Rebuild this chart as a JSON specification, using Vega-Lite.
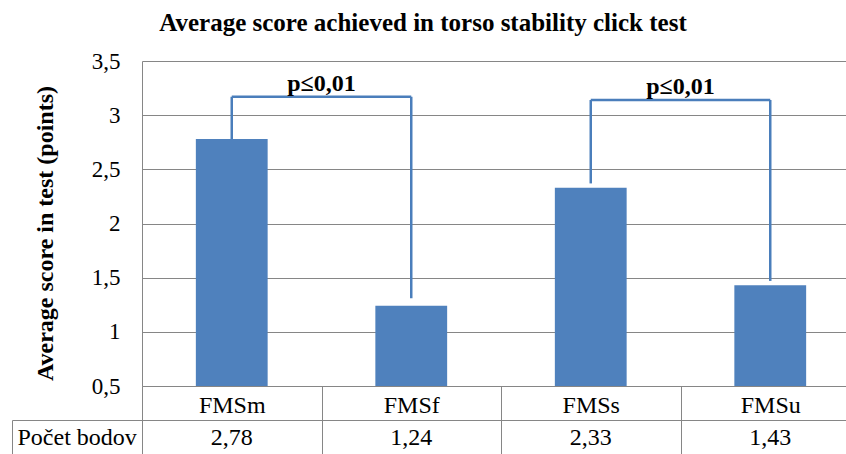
{
  "$schema": "https://vega.github.io/schema/vega-lite/v6.json",
  "width": 704,
  "height": 325,
  "autosize": {"type": "none"},
  "padding": {"left": 142, "top": 61, "right": 0, "bottom": 68},
  "background": "white",
  "title": {
    "text": "Average score achieved in torso stability click test",
    "font": "Liberation Serif, Times New Roman, serif",
    "fontSize": 25,
    "fontWeight": "bold",
    "color": "black",
    "anchor": "middle",
    "frame": "group",
    "dx": -71,
    "offset": 13
  },
  "config": {
    "locale": {"number": {"decimal": ",", "thousands": " ", "grouping": [3], "currency": ["", " €"]}},
    "view": {"stroke": null},
    "font": "Liberation Serif, Times New Roman, serif"
  },
  "datasets": {
    "scores": [
      {"cat": "FMSm", "score": 2.78},
      {"cat": "FMSf", "score": 1.24},
      {"cat": "FMSs", "score": 2.33},
      {"cat": "FMSu", "score": 1.43}
    ],
    "brackets": [
      {"from": "FMSm", "to": "FMSf", "y_from": 2.78, "y_to": 1.31, "y_top": 3.17, "label": "p≤0,01"},
      {"from": "FMSs", "to": "FMSu", "y_from": 2.37, "y_to": 1.47, "y_top": 3.14, "label": "p≤0,01"}
    ]
  },
  "layer": [
    {
      "data": {"name": "scores"},
      "mark": {"type": "bar", "color": "#4F81BD", "width": {"band": 0.4}},
      "encoding": {
        "x": {
          "field": "cat",
          "type": "nominal",
          "sort": null,
          "title": null,
          "scale": {"domain": ["FMSm", "FMSf", "FMSs", "FMSu"], "range": [0, 718], "paddingInner": 0, "paddingOuter": 0},
          "axis": {
            "orient": "bottom",
            "labelAngle": 0,
            "labelFont": "Liberation Serif, Times New Roman, serif",
            "labelFontSize": 24,
            "labelColor": "black",
            "labelBaseline": "alphabetic",
            "labelPadding": -42,
            "tickBand": "extent",
            "tickSize": 68,
            "tickColor": "#868686",
            "domain": true,
            "domainColor": "#868686",
            "grid": false
          }
        },
        "y": {
          "field": "score",
          "type": "quantitative",
          "scale": {"domain": [0.5, 3.5], "nice": false, "zero": false},
          "axis": {
            "title": "Average score in test (points)",
            "values": [0.5, 1, 1.5, 2, 2.5, 3, 3.5],
            "format": "~g",
            "ticks": false,
            "labelPadding": 22,
            "labelFont": "Liberation Serif, Times New Roman, serif",
            "labelFontSize": 23,
            "labelColor": "black",
            "grid": true,
            "gridColor": "#868686",
            "domainColor": "#868686",
            "titleFont": "Liberation Serif, Times New Roman, serif",
            "titleFontSize": 24,
            "titleFontWeight": "bold",
            "titleColor": "black",
            "titlePadding": 34,
            "titleY": 172
          }
        },
        "y2": {"datum": 0.5}
      }
    },
    {
      "data": {"name": "brackets"},
      "mark": {"type": "rule", "color": "#4A7EBB", "strokeWidth": 2.5},
      "encoding": {
        "x": {"field": "from", "type": "nominal", "bandPosition": 0.5, "title": null},
        "y": {"field": "y_from", "type": "quantitative", "scale": {"domain": [0.5, 3.5], "nice": false, "zero": false}, "axis": null},
        "y2": {"field": "y_top"}
      }
    },
    {
      "data": {"name": "brackets"},
      "mark": {"type": "rule", "color": "#4A7EBB", "strokeWidth": 2.5},
      "encoding": {
        "x": {"field": "to", "type": "nominal", "bandPosition": 0.5, "title": null},
        "y": {"field": "y_to", "type": "quantitative", "scale": {"domain": [0.5, 3.5], "nice": false, "zero": false}, "axis": null},
        "y2": {"field": "y_top"}
      }
    },
    {
      "data": {"name": "brackets"},
      "mark": {"type": "rule", "color": "#4A7EBB", "strokeWidth": 2.5},
      "encoding": {
        "x": {"field": "from", "type": "nominal", "bandPosition": 0.5, "title": null},
        "x2": {"field": "to", "bandPosition": 0.5},
        "y": {"field": "y_top", "type": "quantitative", "scale": {"domain": [0.5, 3.5], "nice": false, "zero": false}, "axis": null}
      }
    },
    {
      "data": {"name": "brackets"},
      "mark": {"type": "text", "font": "Liberation Serif, Times New Roman, serif", "fontSize": 24, "fontWeight": "bold", "baseline": "alphabetic", "dy": -6, "color": "black"},
      "encoding": {
        "x": {"field": "from", "type": "nominal", "bandPosition": 1, "title": null},
        "y": {"field": "y_top", "type": "quantitative", "scale": {"domain": [0.5, 3.5], "nice": false, "zero": false}, "axis": null},
        "text": {"field": "label"}
      }
    },
    {
      "data": {"name": "scores"},
      "mark": {"type": "text", "font": "Liberation Serif, Times New Roman, serif", "fontSize": 24, "baseline": "middle", "color": "black", "dy": 1},
      "encoding": {
        "x": {"field": "cat", "type": "nominal", "title": null},
        "y": {
          "datum": "Počet bodov",
          "type": "nominal",
          "scale": {"type": "band", "domain": ["Počet bodov"], "range": [359, 393], "paddingInner": 0, "paddingOuter": 0},
          "axis": {
            "orient": "left",
            "offset": 130,
            "title": null,
            "domain": true,
            "domainColor": "#868686",
            "domainWidth": 1,
            "tickBand": "extent",
            "tickSize": -130,
            "tickColor": "#868686",
            "grid": true,
            "gridColor": "#868686",
            "labelAlign": "left",
            "labelPadding": 125,
            "labelFont": "Liberation Serif, Times New Roman, serif",
            "labelFontSize": 24,
            "labelColor": "black",
            "labelBaseline": "middle"
          }
        },
        "text": {"field": "score", "type": "quantitative", "format": ".2f"}
      }
    }
  ],
  "resolve": {"scale": {"y": "independent"}, "axis": {"y": "independent"}}
}
